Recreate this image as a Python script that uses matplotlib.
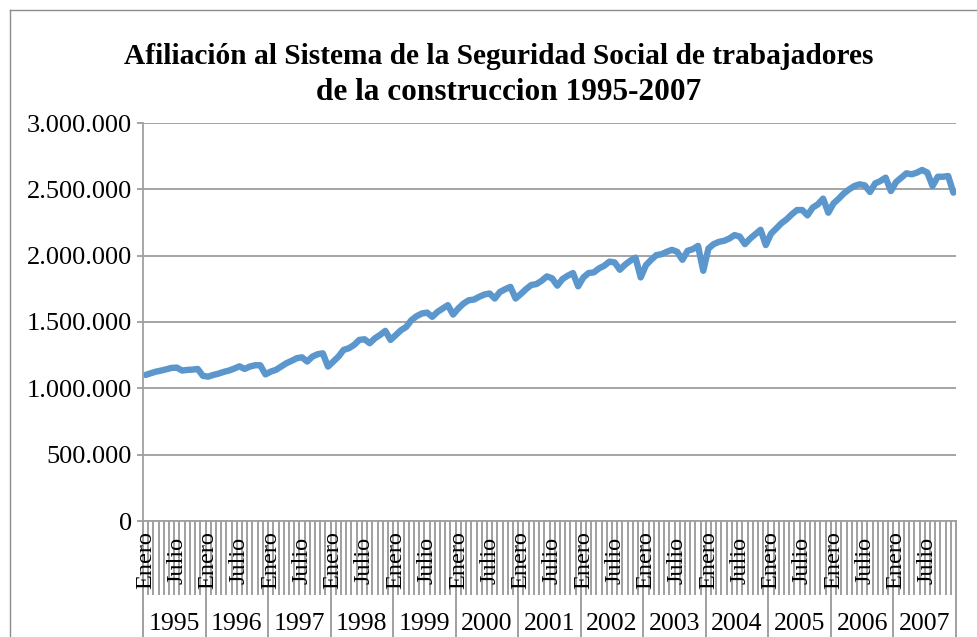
import numpy as np
import matplotlib
matplotlib.use("Agg")
import matplotlib.pyplot as plt
import matplotlib.transforms as mtransforms
from matplotlib.lines import Line2D
from matplotlib.ticker import FuncFormatter, MultipleLocator

plt.rcParams['font.family'] = ['Liberation Serif', 'DejaVu Serif']

# --- data (afiliados, miles) ---
years = ['1995', '1996', '1997', '1998', '1999', '2000', '2001',
         '2002', '2003', '2004', '2005', '2006', '2007']
month_labels = ['Enero', '', '', '', '', '', 'Julio', '', '', '', '', '']

y1995 = [1101, 1114, 1126, 1134, 1144, 1154, 1156, 1134, 1139, 1141, 1146, 1094]
y1996 = [1088, 1101, 1111, 1124, 1134, 1149, 1166, 1146, 1164, 1174, 1174, 1105]
y1997 = [1126, 1139, 1164, 1189, 1207, 1227, 1234, 1202, 1239, 1257, 1264, 1164]
y1998 = [1202, 1239, 1290, 1302, 1327, 1365, 1370, 1340, 1377, 1403, 1433, 1365]
y1999 = [1401, 1438, 1463, 1514, 1544, 1564, 1571, 1539, 1576, 1602, 1627, 1556]
y2000 = [1602, 1639, 1664, 1669, 1690, 1707, 1715, 1677, 1727, 1747, 1765, 1677]
y2001 = [1711, 1748, 1779, 1786, 1811, 1844, 1829, 1774, 1824, 1849, 1869, 1769]
y2002 = [1836, 1869, 1874, 1904, 1924, 1955, 1949, 1894, 1932, 1962, 1985, 1836]
y2003 = [1928, 1969, 2004, 2011, 2029, 2044, 2029, 1969, 2037, 2049, 2074, 1886]
y2004 = [2054, 2087, 2104, 2112, 2129, 2155, 2144, 2087, 2129, 2162, 2195, 2080]
y2005 = [2165, 2205, 2244, 2274, 2312, 2344, 2344, 2304, 2362, 2387, 2430, 2324]
y2006 = [2394, 2430, 2470, 2500, 2525, 2538, 2530, 2480, 2545, 2563, 2588, 2487]
y2007 = [2555, 2588, 2621, 2613, 2626, 2646, 2626, 2525, 2595, 2595, 2600, 2475]

afiliados = np.array(y1995 + y1996 + y1997 + y1998 + y1999 + y2000 + y2001 +
                     y2002 + y2003 + y2004 + y2005 + y2006 + y2007) * 1000
n = len(afiliados)
x = np.arange(n) + 0.5

W, H = 977, 637
fig = plt.figure(figsize=(W / 100, H / 100), dpi=100)
left, right, top, bottom = 143, 956, 123, 521
ax = fig.add_axes([left / W, 1 - bottom / H, (right - left) / W, (bottom - top) / H])

grid_c = '#8c8c8c'
tick_c = '#a0a0a0'

ax.plot(x, afiliados, color='#5B96CD', lw=4.6, solid_joinstyle='round', solid_capstyle='round')

ax.set_xlim(0, n)
ax.set_ylim(0, 3000000)
ax.yaxis.set_major_locator(MultipleLocator(500000))
ax.yaxis.set_major_formatter(FuncFormatter(lambda v, p: f"{int(v):,}".replace(",", ".")))
ax.grid(axis='y', color=grid_c, lw=1.1)
ax.set_axisbelow(True)
ax.tick_params(axis='y', length=4, width=1.1, color=grid_c, pad=4, labelsize=19)

for s in ['top', 'right']:
    ax.spines[s].set_visible(False)
ax.spines['left'].set_color(tick_c)
ax.spines['left'].set_linewidth(1.3)
ax.spines['bottom'].set_color(tick_c)
ax.spines['bottom'].set_linewidth(1.3)

# month ticks
ax.set_xticks(np.arange(n + 1))
ax.set_xticklabels([])
ax.tick_params(axis='x', length=53, width=1.4, color=tick_c, direction='out')

trans = mtransforms.blended_transform_factory(ax.transData, ax.transAxes)
span = bottom - top
# year separators
for k in range(len(years) + 1):
    ax.plot([12 * k, 12 * k], [0, -(H - bottom + 10) / span], transform=trans,
            color=tick_c, lw=1.4, clip_on=False)

# month labels
for i in range(n):
    lab = month_labels[i % 12]
    if lab:
        ax.text(i + 0.5, -(560 - bottom) / span, lab, transform=trans, rotation=90,
                ha='center', va='center', fontsize=17.5)

# year labels
for k, yr in enumerate(years):
    ax.text(12 * k + 6, -(624 - bottom) / span, yr, transform=trans,
            ha='center', va='center', fontsize=18.5)

# title
fig.text(499 / W, 1 - 57 / H, 'Afiliación al Sistema de la Seguridad Social de trabajadores',
         ha='center', va='center', fontsize=21.2, fontweight='bold')
fig.text(509 / W, 1 - 92 / H, 'de la construccion 1995-2007',
         ha='center', va='center', fontsize=22.5, fontweight='bold')

# chart frame
fig.add_artist(Line2D([10 / W, 10 / W], [0, 1 - 10 / H], transform=fig.transFigure,
                      color='#8c8c8c', lw=1.0))
fig.add_artist(Line2D([10 / W, 1], [1 - 10 / H, 1 - 10 / H], transform=fig.transFigure,
                      color='#8c8c8c', lw=1.0))

fig.savefig('out.png', dpi=100)
